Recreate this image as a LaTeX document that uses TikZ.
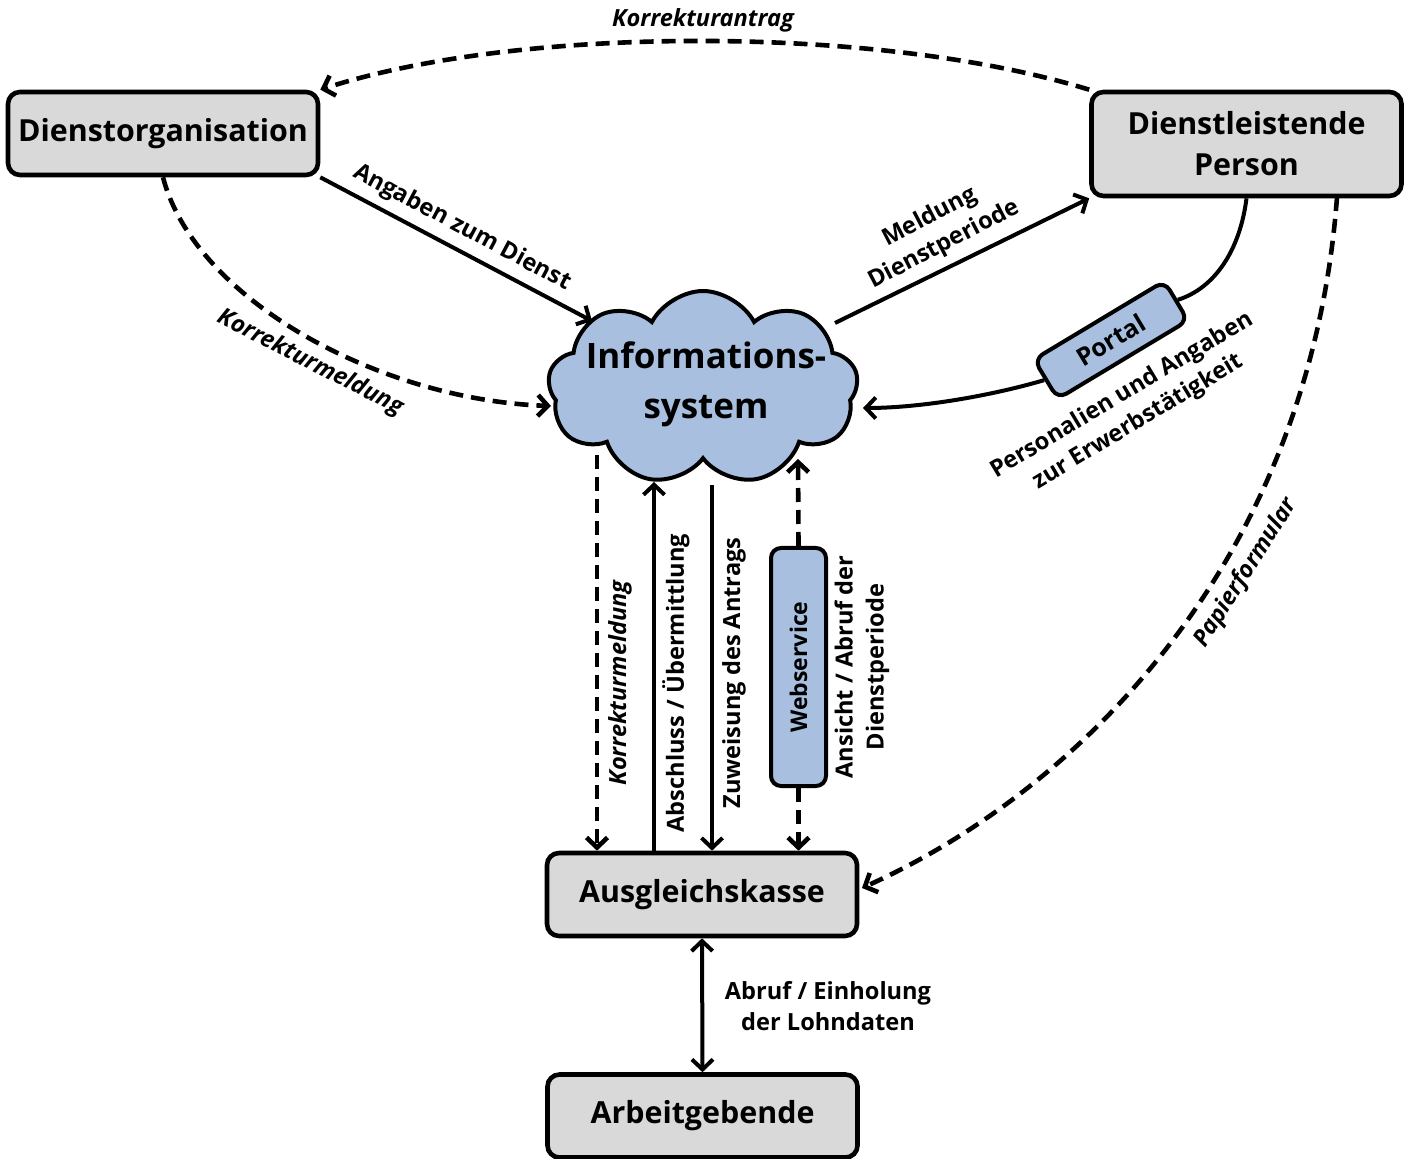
\documentclass[tikz,border=0pt]{standalone}
\usepackage{fontspec}
\setmainfont{Open Sans}
\usetikzlibrary{arrows.meta,shapes.symbols,calc}
\definecolor{boxgray}{RGB}{217,217,217}
\definecolor{cloudblue}{RGB}{168,191,224}
\tikzset{
 mybox/.style={draw, line width=2.3pt, rounded corners=6pt, fill=boxgray, minimum width=155pt, minimum height=41.5pt, align=center, font=\fontsize{15.2}{20.5}\selectfont\bfseries},
 bluebox/.style={draw, line width=2pt, rounded corners=5pt, fill=cloudblue, inner sep=0pt},
 conn/.style={line width=2pt},
 dsh/.style={line width=2.3pt, dash pattern=on 7pt off 4pt},
 lbl/.style={font=\fontsize{11.8}{15.5}\selectfont\bfseries, align=center, inner sep=0pt},
 ilbl/.style={font=\fontsize{11.8}{15.5}\selectfont\bfseries\itshape, align=center, inner sep=0pt},
}
\begin{document}
\begin{tikzpicture}[x=0.5pt,y=-0.5pt, >={Straight Barb[length=5pt,width=10.5pt]}]
\useasboundingbox (0,0) rectangle (1413,1159);
% nodes
\node[mybox] (do) at (163,133.5) {Dienstorganisation};
\node[mybox, minimum height=52pt] (dp) at (1246.5,144) {Dienstleistende\\Person};
\node[mybox] (ak) at (702,894.5) {Ausgleichskasse};
\node[mybox] (ag) at (702.5,1116) {Arbeitgebende};
\node[cloud, cloud puffs=9, cloud puff arc=125, cloud ignores aspect, minimum width=155pt, minimum height=97pt, draw, line width=2pt, fill=cloudblue] (is) at (703,388) {};
\node[font=\fontsize{17.5}{25}\selectfont\bfseries, align=center] (istext) at (706,384) {Informations-\\system};
\node[bluebox, rotate=90, minimum width=119pt, minimum height=27.5pt, font=\fontsize{11.5}{13}\selectfont\bfseries] (ws) at (798.5,667) {Webservice};
\node[bluebox, rotate=31, minimum width=76pt, minimum height=23pt, font=\fontsize{12.5}{14}\selectfont\bfseries] (portal) at (1111,340) {Portal};
% contact coordinates
\coordinate (cA) at (592,321);
\coordinate (cK) at (551,406);
\coordinate (cM) at (835,323);
\coordinate (cP) at (863,408);
\coordinate (cPf) at (1337,197);
\coordinate (cPe) at (862,888);
\coordinate (v1) at (597,455);
\coordinate (v2) at (654,482);
\coordinate (v3) at (712,485);
\coordinate (v4) at (798,459);
% connectors
\draw[conn,dsh,->] (dp.north west) .. controls (880,25) and (520,25) .. (do.north east);
\draw[conn,->] (do.south east) -- (cA);
\draw[conn,dsh,->] (do.south) .. controls (195,300) and (380,400) .. (cK);
\draw[conn,->] (cM) -- (dp.south west);
\draw[conn] (dp.south) .. controls (1240,250) and (1215,288) .. (portal.east);
\draw[conn,->] (portal.west) .. controls (990,396) and (920,408) .. (cP);
\draw[conn,dsh,->] (cPf) .. controls (1310,560) and (1080,790) .. (cPe);
\draw[conn,dsh,->] (v1) -- (v1 |- ak.north);
\draw[conn,->] (v2 |- ak.north) -- (v2);
\draw[conn,->] (v3) -- (v3 |- ak.north);
\draw[conn,dsh,->] (ws.east) -- (v4);
\draw[conn,dsh,->] (ws.west) -- (ws.west |- ak.north);
\draw[conn,<->] (ak.south) -- (ag.north);
% labels
\node[ilbl] (l1) at (703,20) {Korrekturantrag};
\node[lbl, rotate=-28] (l2) at (462,228) {Angaben zum Dienst};
\node[ilbl, rotate=-27] (l3) at (310,363) {Korrekturmeldung};
\node[lbl, rotate=27.5] (l4) at (937,231) {Meldung\\Dienstperiode};
\node[lbl, rotate=31] (l5) at (1130,409) {Personalien und Angaben\\zur Erwerbstätigkeit};
\node[ilbl, rotate=57.5] (l6) at (1246,573) {Papierformular};
\node[ilbl, rotate=90] (l7) at (620,683) {Korrekturmeldung};
\node[lbl, rotate=90] (l8) at (676,683) {Abschluss / Übermittlung};
\node[lbl, rotate=90] (l9) at (734,673) {Zuweisung des Antrags};
\node[lbl, rotate=90] (l10) at (862,667) {Ansicht / Abruf der\\Dienstperiode};
\node[lbl] (l11) at (828,1006) {Abruf / Einholung\\der Lohndaten};
\end{tikzpicture}
\end{document}
